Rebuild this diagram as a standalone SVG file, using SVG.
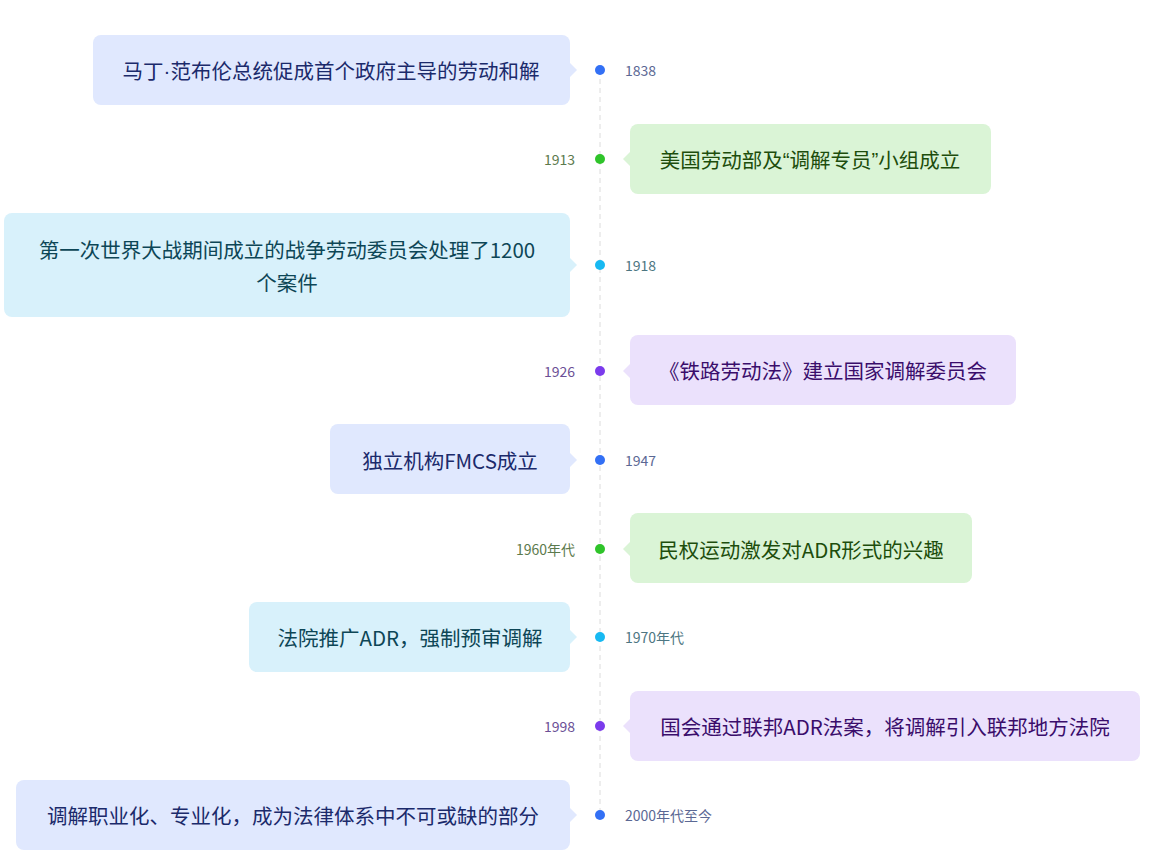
<svg xmlns="http://www.w3.org/2000/svg" width="1162" height="862" viewBox="0 0 1162 862">
<style>
text{font-family:"Noto Sans CJK SC","Noto Sans",sans-serif}
.t{font-size:20.5px;text-anchor:middle;dominant-baseline:central}
.y{font-size:14px;dominant-baseline:central}
.yl{text-anchor:end}
.lat{font-family:"Liberation Sans",sans-serif}
.blue .b{fill:#e0e8fe}.blue .t{fill:#1b2a6b}.blue .y{fill:#5b6894}.blue .d{fill:#3370f5}
.green .b{fill:#daf4d6}.green .t{fill:#1d4d0c}.green .y{fill:#5c7a4d}.green .d{fill:#2fc42a}
.cyan .b{fill:#d8f1fb}.cyan .t{fill:#0d4656}.cyan .y{fill:#4d7682}.cyan .d{fill:#17b9f2}
.purple .b{fill:#ebe1fc}.purple .t{fill:#3a0d6b}.purple .y{fill:#6b4f96}.purple .d{fill:#7b3bec}
</style>
<rect width="1162" height="862" fill="#ffffff"/>
<g id="connectors">
<line x1="600" y1="70" x2="600" y2="815" stroke="#dcdcdc" stroke-width="1" stroke-dasharray="5 4"/>
</g>
<g id="n1" class="blue">
<rect class="b" x="93" y="35" width="477" height="70" rx="8"/>
<path class="b" d="M569 62 L577 70 L569 78 Z"/>
<text class="t" x="331" y="70">马丁<tspan class="lat">·</tspan>范布伦总统促成首个政府主导的劳动和解</text>
<circle class="d" cx="600" cy="70" r="5"/>
<text class="y" x="625" y="70">1838</text>
</g>
<g id="n2" class="green">
<rect class="b" x="630" y="124" width="361" height="70" rx="8"/>
<path class="b" d="M631 151 L623 159 L631 167 Z"/>
<text class="t" x="810" y="159">美国劳动部及<tspan class="lat">“</tspan>调解专员<tspan class="lat">”</tspan>小组成立</text>
<circle class="d" cx="600" cy="159" r="5"/>
<text class="y yl" x="575" y="159">1913</text>
</g>
<g id="n3" class="cyan">
<rect class="b" x="4" y="213" width="566" height="104" rx="8"/>
<path class="b" d="M569 257 L577 265 L569 273 Z"/>
<text class="t" x="287" y="249">第一次世界大战期间成立的战争劳动委员会处理了1200</text>
<text class="t" x="287" y="282">个案件</text>
<circle class="d" cx="600" cy="265" r="5"/>
<text class="y" x="625" y="265">1918</text>
</g>
<g id="n4" class="purple">
<rect class="b" x="630" y="335" width="386" height="70" rx="8"/>
<path class="b" d="M631 363 L623 371 L631 379 Z"/>
<text class="t" x="823" y="370">《铁路劳动法》建立国家调解委员会</text>
<circle class="d" cx="600" cy="371" r="5"/>
<text class="y yl" x="575" y="371">1926</text>
</g>
<g id="n5" class="blue">
<rect class="b" x="330" y="424" width="240" height="70" rx="8"/>
<path class="b" d="M569 452 L577 460 L569 468 Z"/>
<text class="t" x="450" y="460">独立机构FMCS成立</text>
<circle class="d" cx="600" cy="460" r="5"/>
<text class="y" x="625" y="460">1947</text>
</g>
<g id="n6" class="green">
<rect class="b" x="630" y="513" width="342" height="70" rx="8"/>
<path class="b" d="M631 541 L623 549 L631 557 Z"/>
<text class="t" x="801" y="549">民权运动激发对ADR形式的兴趣</text>
<circle class="d" cx="600" cy="549" r="5"/>
<text class="y yl" x="575" y="549">1960年代</text>
</g>
<g id="n7" class="cyan">
<rect class="b" x="249" y="602" width="321" height="70" rx="8"/>
<path class="b" d="M569 629 L577 637 L569 645 Z"/>
<text class="t" x="410" y="637">法院推广ADR，强制预审调解</text>
<circle class="d" cx="600" cy="637" r="5"/>
<text class="y" x="625" y="637">1970年代</text>
</g>
<g id="n8" class="purple">
<rect class="b" x="630" y="691" width="510" height="70" rx="8"/>
<path class="b" d="M631 718 L623 726 L631 734 Z"/>
<text class="t" x="885" y="726">国会通过联邦ADR法案，将调解引入联邦地方法院</text>
<circle class="d" cx="600" cy="726" r="5"/>
<text class="y yl" x="575" y="726">1998</text>
</g>
<g id="n9" class="blue">
<rect class="b" x="16" y="780" width="554" height="70" rx="8"/>
<path class="b" d="M569 807 L577 815 L569 823 Z"/>
<text class="t" x="293" y="815">调解职业化、专业化，成为法律体系中不可或缺的部分</text>
<circle class="d" cx="600" cy="815" r="5"/>
<text class="y" x="625" y="815">2000年代至今</text>
</g>
</svg>
